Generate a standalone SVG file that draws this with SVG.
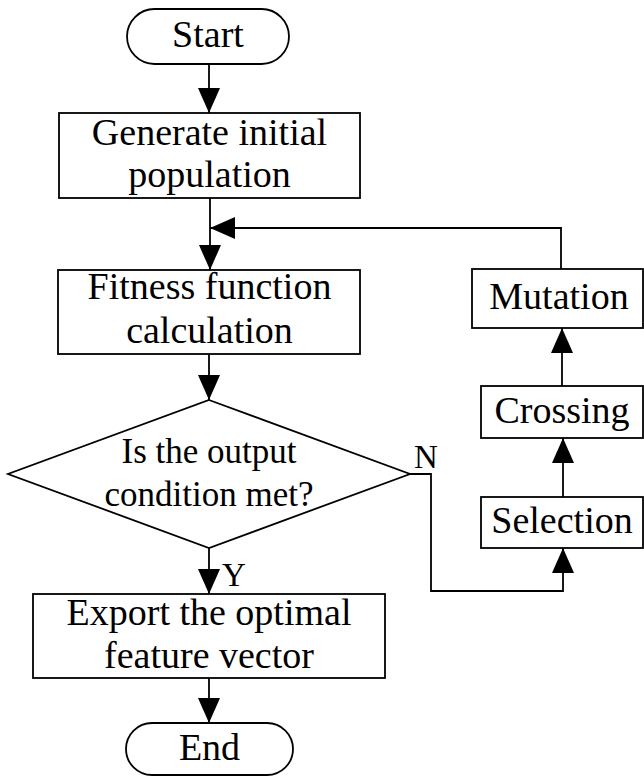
<svg xmlns="http://www.w3.org/2000/svg" width="644" height="776" viewBox="0 0 644 776">
<style>
.box{fill:#fff;stroke:#000;stroke-width:1.8}
.ln{fill:none;stroke:#000;stroke-width:1.8}
.t{font-family:"Liberation Serif","Times New Roman",serif;font-size:38px;fill:#000;text-anchor:middle}
.td{font-size:35px}
.lab{font-family:"Liberation Serif","Times New Roman",serif;font-size:33px;fill:#000}
</style>
<defs>
<marker id="ah" viewBox="0 0 25 22" refX="25" refY="11" markerWidth="25" markerHeight="22" markerUnits="userSpaceOnUse" orient="auto">
<path d="M0,0 L25,11 L0,22 Z" fill="#000"/>
</marker>
</defs>
<g id="connectors">
<path class="ln" d="M209,64 V113" marker-end="url(#ah)"/>
<path class="ln" d="M210,198 V270" marker-end="url(#ah)"/>
<path class="ln" d="M561,269 V228 H210" marker-end="url(#ah)"/>
<path class="ln" d="M209,354 V400" marker-end="url(#ah)"/>
<path class="ln" d="M209,548 V594" marker-end="url(#ah)"/>
<path class="ln" d="M209,678 V723" marker-end="url(#ah)"/>
<path class="ln" d="M410,474 H431 V591 H563 V548" marker-end="url(#ah)"/>
<path class="ln" d="M563,497 V438" marker-end="url(#ah)"/>
<path class="ln" d="M562,386 V328" marker-end="url(#ah)"/>
<text class="lab" x="414" y="468">N</text>
<text class="lab" x="222" y="586">Y</text>
</g>
<g id="start">
<rect class="box" x="127" y="9" width="162" height="55" rx="27.5" ry="27.5"/>
<text class="t" x="208" y="47">Start</text>
</g>
<g id="generate">
<rect class="box" x="59" y="113" width="301" height="85"/>
<text class="t" x="209.5" y="145">Generate initial</text>
<text class="t" x="209.5" y="187">population</text>
</g>
<g id="fitness">
<rect class="box" x="58" y="270" width="302" height="84"/>
<text class="t" x="209.5" y="299">Fitness function</text>
<text class="t" x="209.5" y="343">calculation</text>
</g>
<g id="decision">
<polygon class="box" points="209,400 410,474 209,548 8,474"/>
<text class="t td" x="209" y="463">Is the output</text>
<text class="t td" x="209" y="506">condition met?</text>
</g>
<g id="export">
<rect class="box" x="33" y="594" width="352" height="84"/>
<text class="t" x="209" y="625">Export the optimal</text>
<text class="t" x="209" y="668">feature vector</text>
</g>
<g id="end">
<rect class="box" x="126" y="723" width="167" height="52" rx="26" ry="26"/>
<text class="t" x="209.5" y="760">End</text>
</g>
<g id="mutation">
<rect class="box" x="472" y="269" width="171" height="59"/>
<text class="t" x="559" y="309">Mutation</text>
</g>
<g id="crossing">
<rect class="box" x="481" y="386" width="162" height="52"/>
<text class="t" x="562" y="423">Crossing</text>
</g>
<g id="selection">
<rect class="box" x="481" y="497" width="162" height="51"/>
<text class="t" x="562" y="533">Selection</text>
</g>
</svg>
